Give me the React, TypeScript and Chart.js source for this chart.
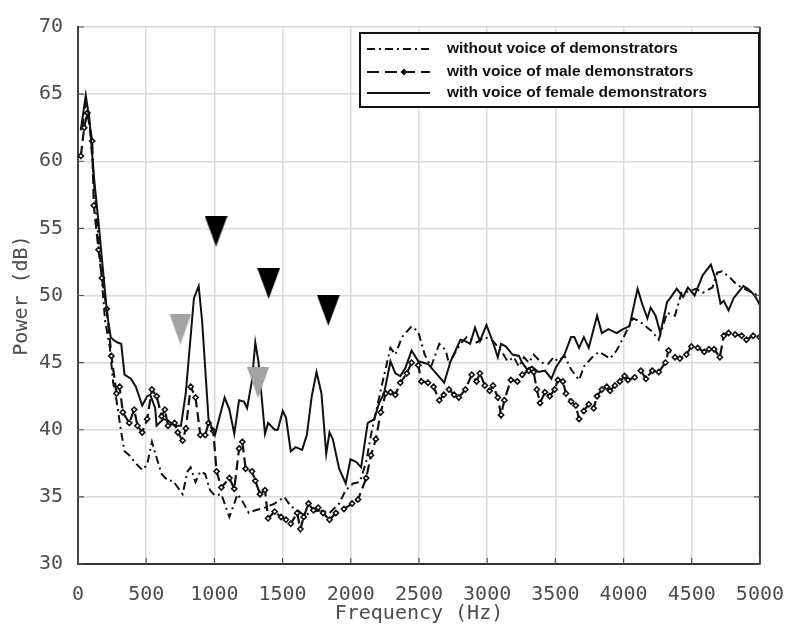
import React, { useEffect, useRef } from "react";
import { Chart, registerables } from "chart.js";
Chart.register(...registerables);

const xTickValues = [0, 500, 1000, 1500, 2000, 2500, 3000, 3500, 4000, 4500, 5000];
const yTickValues = [30, 35, 40, 45, 50, 55, 60, 65, 70];

const legendLabels = [
  "without voice of demonstrators",
  "with voice of male demonstrators",
  "with voice of female demonstrators",
];

const noVoiceFreq = [33, 57, 80, 120, 160, 199, 234, 258, 282, 317, 341, 376, 424, 471, 507, 542, 577, 613, 660, 696, 732, 767, 803, 826, 862, 897, 933, 968, 1004, 1051, 1110, 1170, 1205, 1252, 1300, 1371, 1442, 1513, 1560, 1610, 1660, 1720, 1780, 1844, 1915, 1963, 2017, 2065, 2113, 2148, 2184, 2232, 2291, 2327, 2375, 2446, 2495, 2542, 2589, 2649, 2697, 2720, 2757, 2804, 2851, 2922, 2984, 3043, 3102, 3150, 3196, 3233, 3270, 3306, 3341, 3397, 3447, 3488, 3519, 3567, 3615, 3674, 3709, 3770, 3820, 3870, 3901, 3949, 3996, 4068, 4115, 4175, 4211, 4258, 4319, 4377, 4425, 4475, 4532, 4580, 4652, 4687, 4723, 4783, 4831, 4866, 4950, 5000];
const noVoicePower = [62.6, 64.5, 63.6, 58.0, 53.0, 48.1, 46.1, 43.5, 42.2, 39.8, 38.4, 38.1, 37.5, 37.0, 37.4, 39.1, 37.9, 36.7, 36.2, 36.2, 35.7, 35.2, 36.9, 37.2, 36.1, 36.9, 36.7, 35.5, 35.1, 35.2, 33.5, 35.2, 34.7, 33.8, 34.0, 34.2, 34.5, 35.0, 34.3, 34.0, 33.6, 33.9, 34.0, 33.8, 34.5, 35.5, 36.0, 36.1, 37.6, 39.6, 41.3, 43.5, 46.1, 45.6, 46.9, 47.7, 47.3, 45.6, 44.7, 46.4, 45.9, 44.9, 45.6, 46.4, 46.9, 46.5, 46.9, 46.6, 45.9, 45.1, 45.4, 44.7, 45.4, 45.0, 45.6, 45.0, 44.9, 45.4, 45.1, 45.5, 44.5, 43.7, 44.7, 45.4, 45.8, 45.5, 45.3, 45.9, 46.8, 48.3, 48.1, 47.6, 47.3, 46.7, 48.7, 48.5, 50.2, 50.3, 50.5, 50.2, 50.6, 51.7, 51.8, 51.3, 50.8, 50.6, 50.2, 49.9];

const maleFreq = [21, 45, 69, 104, 116, 151, 175, 211, 245, 282, 305, 329, 376, 412, 436, 471, 507, 542, 577, 613, 637, 660, 708, 732, 767, 791, 826, 862, 897, 933, 957, 992, 1016, 1051, 1110, 1146, 1181, 1205, 1229, 1276, 1300, 1335, 1371, 1394, 1442, 1489, 1525, 1560, 1607, 1631, 1655, 1690, 1726, 1761, 1797, 1844, 1891, 1950, 2010, 2053, 2113, 2148, 2184, 2220, 2256, 2292, 2327, 2363, 2411, 2446, 2495, 2518, 2566, 2607, 2649, 2682, 2720, 2758, 2792, 2840, 2887, 2922, 2947, 2983, 3018, 3043, 3078, 3102, 3126, 3174, 3221, 3257, 3305, 3341, 3364, 3388, 3424, 3459, 3495, 3519, 3555, 3578, 3615, 3650, 3674, 3709, 3745, 3781, 3806, 3841, 3877, 3901, 3937, 3973, 4008, 4032, 4082, 4127, 4164, 4211, 4258, 4307, 4330, 4377, 4413, 4461, 4497, 4544, 4592, 4626, 4664, 4706, 4735, 4770, 4819, 4866, 4901, 4950, 4997];
const malePower = [60.4, 62.5, 63.6, 61.5, 56.7, 53.4, 51.3, 49.0, 45.5, 42.7, 43.2, 41.3, 40.5, 41.5, 40.3, 39.8, 40.8, 43.0, 42.5, 41.0, 41.5, 40.3, 40.5, 39.8, 39.2, 40.1, 43.2, 42.4, 39.6, 39.6, 40.5, 39.9, 36.9, 35.7, 36.4, 35.6, 38.6, 39.1, 37.1, 36.9, 36.2, 35.2, 35.5, 33.4, 33.9, 33.5, 33.3, 33.0, 33.8, 32.6, 33.5, 34.5, 34.0, 34.2, 33.8, 33.3, 33.8, 34.1, 34.5, 34.8, 36.4, 38.1, 39.3, 41.3, 42.7, 42.8, 42.6, 43.5, 44.2, 45.0, 44.8, 43.6, 43.5, 43.2, 42.2, 42.6, 43.0, 42.6, 42.4, 43.0, 44.1, 43.6, 44.2, 43.3, 42.9, 43.3, 42.4, 41.1, 42.2, 43.7, 43.6, 44.1, 44.4, 44.3, 43.0, 42.0, 42.8, 42.5, 43.0, 43.7, 43.6, 42.7, 42.1, 41.8, 40.8, 41.4, 41.9, 41.6, 42.5, 43.0, 43.2, 42.9, 43.3, 43.6, 44.0, 43.7, 43.9, 44.4, 43.8, 44.4, 44.3, 45.0, 45.9, 45.4, 45.3, 45.6, 46.2, 46.1, 45.8, 46.0, 46.0, 45.4, 47.0, 47.2, 47.1, 47.0, 46.7, 47.0, 46.9];

const femaleFreq = [20, 57, 85, 120, 150, 185, 215, 240, 258, 290, 317, 341, 388, 424, 471, 507, 530, 566, 576, 625, 660, 708, 755, 790, 850, 885, 910, 957, 1004, 1075, 1110, 1146, 1181, 1217, 1240, 1276, 1300, 1323, 1371, 1394, 1442, 1465, 1501, 1525, 1560, 1596, 1643, 1678, 1714, 1749, 1785, 1820, 1844, 1868, 1915, 1963, 1998, 2041, 2076, 2124, 2172, 2208, 2244, 2291, 2327, 2363, 2400, 2446, 2495, 2566, 2626, 2685, 2732, 2804, 2840, 2875, 2911, 2947, 2995, 3043, 3078, 3102, 3138, 3186, 3233, 3257, 3293, 3329, 3376, 3424, 3471, 3507, 3567, 3615, 3639, 3674, 3709, 3745, 3806, 3841, 3889, 3949, 3996, 4043, 4103, 4139, 4175, 4199, 4235, 4270, 4319, 4342, 4390, 4437, 4472, 4521, 4580, 4640, 4676, 4711, 4735, 4770, 4807, 4878, 4913, 4962, 5000];
const femalePower = [62.3, 64.9, 63.0, 58.5, 55.5, 51.7, 48.5, 46.9, 46.7, 46.5, 46.4, 44.1, 43.8, 43.2, 41.8, 42.5, 42.6, 41.6, 40.3, 40.8, 40.7, 40.3, 40.3, 42.7, 49.8, 50.7, 48.1, 40.8, 39.6, 42.4, 41.5, 39.7, 42.2, 42.1, 41.6, 43.7, 46.5, 45.1, 39.7, 40.5, 40.0, 40.0, 41.4, 40.9, 38.4, 38.7, 38.5, 39.6, 42.5, 44.3, 42.7, 38.2, 39.8, 39.3, 37.1, 36.0, 37.8, 37.6, 37.2, 40.5, 40.8, 42.0, 42.7, 45.1, 44.2, 44.0, 44.6, 45.9, 45.1, 44.9, 44.2, 43.5, 45.1, 46.7, 46.6, 46.4, 47.6, 46.6, 47.8, 46.5, 45.4, 46.4, 46.2, 45.6, 45.5, 45.0, 44.5, 44.7, 44.3, 44.4, 43.8, 44.7, 45.6, 46.9, 46.9, 46.1, 46.9, 46.1, 48.5, 47.2, 47.5, 47.2, 47.5, 47.7, 50.5, 49.3, 48.3, 49.1, 48.5, 47.2, 49.5, 49.8, 50.5, 49.9, 50.6, 50.0, 51.5, 52.3, 51.2, 49.4, 49.6, 48.9, 49.8, 50.7, 50.5, 50.0, 49.3];

const blackMarkFreq = [1012, 1398, 1835];
const blackMarkPower = [54.8, 50.9, 48.9];
const grayMarkFreq = [751, 1320];
const grayMarkPower = [47.5, 43.5];

const toPoints = (xs: number[], ys: number[]) => xs.map((x, i) => ({ x, y: ys[i] }));

function makeTriangle(color: string, w: number, h: number) {
  const c = document.createElement("canvas");
  c.width = w;
  c.height = h;
  const ctx = c.getContext("2d")!;
  ctx.fillStyle = color;
  ctx.beginPath();
  ctx.moveTo(0, 0);
  ctx.lineTo(w, 0);
  ctx.lineTo(w / 2, h);
  ctx.closePath();
  ctx.fill();
  return c;
}

const AXIS_FONT = "'DejaVu Sans Mono', monospace";
const TEXT_GRAY = "#4d4d4d";

const framePlugin = {
  id: "frameAndLegend",
  afterDraw(chart: any) {
    const ctx = chart.ctx as CanvasRenderingContext2D;
    const { left, right, top, bottom } = chart.chartArea;
    const xs = chart.scales.x;
    const ys = chart.scales.y;
    ctx.save();
    ctx.strokeStyle = "#3a3a3a";
    ctx.lineWidth = 2;
    ctx.beginPath();
    ctx.moveTo(right, top);
    ctx.lineTo(right, bottom);
    ctx.stroke();
    ctx.lineWidth = 1.2;
    ctx.strokeStyle = "#555";
    ctx.beginPath();
    xTickValues.forEach((v) => {
      const px = xs.getPixelForValue(v);
      ctx.moveTo(px, bottom);
      ctx.lineTo(px, bottom - 6);
    });
    yTickValues.forEach((v) => {
      const py = ys.getPixelForValue(v);
      ctx.moveTo(left, py);
      ctx.lineTo(left + 6, py);
      ctx.moveTo(right, py);
      ctx.lineTo(right - 6, py);
    });
    ctx.stroke();

    const bx = 360, by = 33, bw = 399, bh = 74;
    ctx.fillStyle = "#ffffff";
    ctx.fillRect(bx, by, bw, bh);
    ctx.strokeStyle = "#111";
    ctx.lineWidth = 2;
    ctx.strokeRect(bx, by, bw, bh);
    const rows = [49, 72, 93];
    const x0 = 367, x1 = 430;
    ctx.setLineDash([8, 4, 2, 4]);
    ctx.beginPath();
    ctx.moveTo(x0, rows[0]);
    ctx.lineTo(x1, rows[0]);
    ctx.stroke();
    ctx.setLineDash([12, 6]);
    ctx.beginPath();
    ctx.moveTo(x0, rows[1]);
    ctx.lineTo(x1, rows[1]);
    ctx.stroke();
    ctx.setLineDash([]);
    ctx.fillStyle = "#111";
    ctx.beginPath();
    ctx.moveTo(404, rows[1] - 3.5);
    ctx.lineTo(407.5, rows[1]);
    ctx.lineTo(404, rows[1] + 3.5);
    ctx.lineTo(400.5, rows[1]);
    ctx.closePath();
    ctx.fill();
    ctx.beginPath();
    ctx.moveTo(x0, rows[2]);
    ctx.lineTo(x1, rows[2]);
    ctx.stroke();
    ctx.fillStyle = "#111";
    ctx.font = "bold 15.5px 'Liberation Sans', Arial, sans-serif";
    ctx.textBaseline = "middle";
    ctx.textAlign = "left";
    legendLabels.forEach((t, i) => ctx.fillText(t, 447, rows[i]));
    ctx.restore();
  },
};

export default function App() {
  const ref = useRef<HTMLCanvasElement | null>(null);
  useEffect(() => {
    if (!ref.current) return;
    const blackTri = makeTriangle("#000000", 23, 31);
    const grayTri = makeTriangle("#a3a3a3", 22, 31);
    const chart = new Chart(ref.current, {
      type: "scatter",
      data: {
        datasets: [
          {
            label: "black marks",
            data: toPoints(blackMarkFreq, blackMarkPower),
            pointStyle: blackTri as any,
            pointRadius: 12,
            showLine: false,
          },
          {
            label: "gray marks",
            data: toPoints(grayMarkFreq, grayMarkPower),
            pointStyle: grayTri as any,
            pointRadius: 12,
            showLine: false,
          },
          {
            label: legendLabels[2],
            data: toPoints(femaleFreq, femalePower),
            showLine: true,
            borderColor: "#111",
            borderWidth: 2,
            pointRadius: 0,
            tension: 0,
          },
          {
            label: legendLabels[1],
            data: toPoints(maleFreq, malePower),
            showLine: true,
            borderColor: "#111",
            borderWidth: 2.2,
            borderDash: [10, 5],
            pointStyle: "rectRot",
            pointRadius: 2.6,
            pointBorderWidth: 1.6,
            pointBorderColor: "#111",
            pointBackgroundColor: "#ffffff",
            tension: 0,
          },
          {
            label: legendLabels[0],
            data: toPoints(noVoiceFreq, noVoicePower),
            showLine: true,
            borderColor: "#111",
            borderWidth: 2,
            borderDash: [8, 4, 2, 4],
            pointRadius: 0,
            tension: 0,
          },
        ],
      },
      options: {
        animation: false,
        responsive: false,
        maintainAspectRatio: false,
        layout: { padding: { top: 15, right: 26, left: 0, bottom: 0 } },
        plugins: { legend: { display: false }, tooltip: { enabled: false } },
        scales: {
          x: {
            type: "linear",
            min: 0,
            max: 5000,
            afterFit: (s: any) => { s.height = 68; },
            afterBuildTicks: (s: any) => { s.ticks = xTickValues.map((v) => ({ value: v })); },
            grid: { color: "#dadada", lineWidth: 1.5, drawTicks: false },
            border: { color: "#333", width: 2 },
            ticks: {
              font: { family: AXIS_FONT, size: 20 },
              color: TEXT_GRAY,
              padding: 19,
              maxRotation: 0,
              callback: (v: any) => String(v),
            },
            title: {
              display: true,
              text: "Frequency (Hz)",
              font: { family: AXIS_FONT, size: 20 },
              color: TEXT_GRAY,
              padding: { top: 0, bottom: 6 },
            },
          },
          y: {
            type: "linear",
            min: 30,
            max: 70,
            afterFit: (s: any) => { s.width = 78; },
            afterBuildTicks: (s: any) => { s.ticks = yTickValues.map((v) => ({ value: v })); },
            grid: { color: "#dadada", lineWidth: 1.5, drawTicks: false },
            border: { color: "#444", width: 2 },
            ticks: {
              font: { family: AXIS_FONT, size: 20 },
              color: TEXT_GRAY,
              padding: 15,
              callback: (v: any) => String(v),
            },
            title: {
              display: true,
              text: "Power (dB)",
              font: { family: AXIS_FONT, size: 20 },
              color: TEXT_GRAY,
              padding: { top: 10, bottom: 0 },
            },
          },
        },
      },
      plugins: [framePlugin],
    });
    return () => chart.destroy();
  }, []);
  return (
    <div style={{ position: "fixed", left: 0, top: 0, width: 803, height: 632, background: "#fff" }}>
      <canvas ref={ref} width={803} height={632} style={{ display: "block" }} />
    </div>
  );
}
